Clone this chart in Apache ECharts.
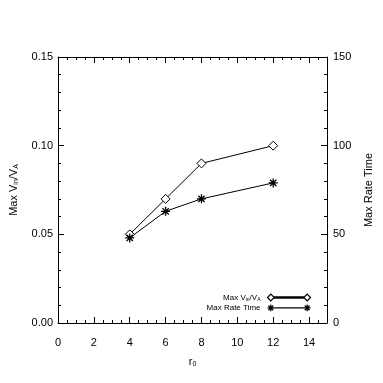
<!DOCTYPE html>
<html>
<head>
<meta charset="utf-8">
<script src="https://cdn.jsdelivr.net/npm/echarts@6/dist/echarts.min.js"></script>
<style>
  html, body { margin: 0; padding: 0; background: #fff; }
  #chart { width: 383px; height: 383px; }
</style>
</head>
<body>
<div id="chart"></div>
<script>
// data
const rValues = [4, 6, 8, 12];
const maxVinVA = [0.05, 0.07, 0.09, 0.10];
const maxRateTime = [48, 63, 70, 79];
const xTicks = [0, 2, 4, 6, 8, 10, 12, 14];

const chart = echarts.init(document.getElementById('chart'), null, { renderer: 'canvas' });

const font = 'Liberation Sans, Arial, Helvetica, sans-serif';
// asterisk like IDL psym=2
const asterisk = 'path://M0 5 L10 5 M5 0 L5 10 M1.5 1.5 L8.5 8.5 M1.5 8.5 L8.5 1.5';
const legDiamond = 'path://M0.5 4 L4 0.5 L7.5 4 L4 7.5 Z M7.5 3.4 L38.5 3.4 L38.5 4.6 L7.5 4.6 Z M38.5 4 L42 0.5 L45.5 4 L42 7.5 Z';
const legStar = 'path://M0.5 4 L7.5 4 M4 0.5 L4 7.5 M1.5 1.5 L6.5 6.5 M1.5 6.5 L6.5 1.5 M7.5 4 L38.5 4 M38.5 4 L45.5 4 M42 0.5 L42 7.5 M39.5 1.5 L44.5 6.5 M39.5 6.5 L44.5 1.5';

const axisLine = { show: true, onZero: false, lineStyle: { color: '#000', width: 1 } };
const axisTick = { show: true, inside: true, length: 6, lineStyle: { color: '#000' } };

const nameRich = {
  n: { fontSize: 11, fontFamily: font, color: '#000' },
  s: { fontSize: 7, fontFamily: font, color: '#000', padding: [6, 0, 0, 0] }
};

const option = {
  backgroundColor: '#fff',
  animation: false,
  grid: { left: 58, right: 56, top: 57, bottom: 60 },
  legend: {
    orient: 'vertical',
    right: 70,
    top: 293,
    padding: 0,
    align: 'right',
    itemGap: 0,
    itemWidth: 43,
    itemHeight: 7,
    data: [
      { name: 'Max Vin/VA', icon: legDiamond, itemStyle: { color: '#fff', borderColor: '#000', borderWidth: 1.2 } },
      { name: 'Max Rate Time', icon: legStar, itemStyle: { color: 'none', borderColor: '#000', borderWidth: 1.2 } }
    ],
    formatter: function (name) {
      if (name === 'Max Vin/VA') return '{n|Max V}{s|in}{n|/V}{s|A}';
      return '{n|' + name + '}';
    },
    textStyle: {
      padding: [0, 2, 0, 0],
      rich: {
        n: { fontSize: 8, lineHeight: 9, fontFamily: font, color: '#000' },
        s: { fontSize: 5, lineHeight: 9, fontFamily: font, color: '#000', padding: [4, 0, 0, 0] }
      }
    }
  },
  xAxis: [{
    type: 'value',
    min: 0,
    max: 15,
    interval: 2,
    position: 'bottom',
    name: '{n|r}{s|0}',
    nameLocation: 'middle',
    nameGap: 32,
    nameTextStyle: { rich: nameRich },
    axisLabel: {
      color: '#000', fontSize: 11, fontFamily: font, margin: 14,
      showMaxLabel: false,
      formatter: function (v) { return xTicks.indexOf(v) >= 0 ? String(v) : ''; }
    },
    minorTick: { show: true, splitNumber: 4, length: 3, lineStyle: { color: '#000' } },
    axisLine: axisLine,
    axisTick: axisTick,
    splitLine: { show: false }
  }, {
    type: 'value',
    min: 0,
    max: 15,
    interval: 2,
    position: 'top',
    axisLabel: { show: false },
    minorTick: { show: true, splitNumber: 4, length: 3, lineStyle: { color: '#000' } },
    axisLine: axisLine,
    axisTick: axisTick,
    splitLine: { show: false }
  }],
  yAxis: [{
    type: 'value',
    min: 0,
    max: 0.15,
    interval: 0.05,
    position: 'left',
    name: '{n|Max V}{s|in}{n|/V}{s|A}',
    nameLocation: 'middle',
    nameRotate: 90,
    nameGap: 38,
    nameTextStyle: { rich: nameRich },
    axisLabel: {
      color: '#000', fontSize: 11, fontFamily: font, margin: 5,
      formatter: function (v) { return v.toFixed(2); }
    },
    minorTick: { show: true, splitNumber: 5, length: 3, lineStyle: { color: '#000' } },
    axisLine: axisLine,
    axisTick: axisTick,
    splitLine: { show: false }
  }, {
    type: 'value',
    min: 0,
    max: 150,
    interval: 50,
    position: 'right',
    name: 'Max Rate Time',
    nameLocation: 'middle',
    nameRotate: 90,
    nameGap: 36,
    nameTextStyle: { color: '#000', fontSize: 11, fontFamily: font },
    axisLabel: { color: '#000', fontSize: 11, fontFamily: font, margin: 6 },
    minorTick: { show: true, splitNumber: 5, length: 3, lineStyle: { color: '#000' } },
    axisLine: axisLine,
    axisTick: axisTick,
    splitLine: { show: false }
  }],
  series: [{
    name: 'Max Vin/VA',
    type: 'line',
    xAxisIndex: 0,
    yAxisIndex: 0,
    data: rValues.map((r, i) => [r, maxVinVA[i]]),
    symbol: 'diamond',
    symbolSize: 9,
    lineStyle: { color: '#000', width: 1 },
    itemStyle: { color: '#fff', borderColor: '#000', borderWidth: 1 }
  }, {
    name: 'Max Rate Time',
    type: 'line',
    xAxisIndex: 0,
    yAxisIndex: 1,
    data: rValues.map((r, i) => [r, maxRateTime[i]]),
    symbol: asterisk,
    symbolSize: 9,
    lineStyle: { color: '#000', width: 1 },
    itemStyle: { color: 'none', borderColor: '#000', borderWidth: 1.3 }
  }]
};

chart.setOption(option);
</script>
</body>
</html>
